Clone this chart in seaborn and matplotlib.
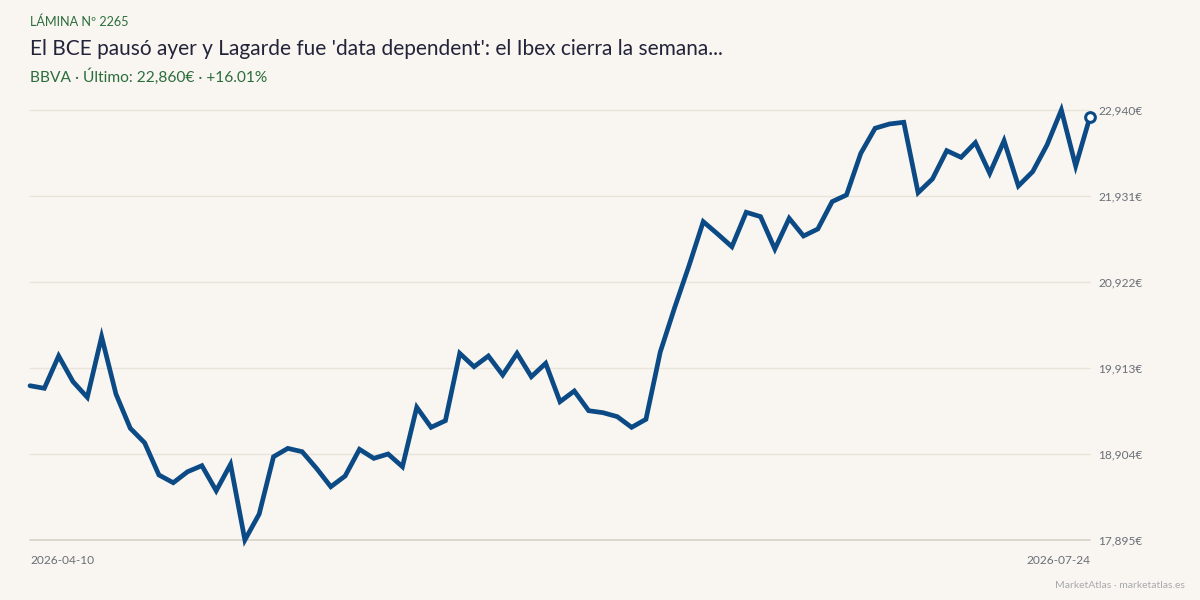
import matplotlib
matplotlib.use("Agg")
import matplotlib.pyplot as plt
import seaborn as sns
import pandas as pd
import numpy as np

# ---- data ----
prices = [19705, 19675, 20054, 19753, 19569, 20280, 19608, 19206, 19036, 18658,
          18567, 18696, 18767, 18473, 18783, 17895, 18200, 18872, 18970, 18931,
          18736, 18520, 18646, 18959, 18853, 18904, 18755, 19452, 19217, 19295,
          20085, 19928, 20054, 19831, 20085, 19811, 19968, 19518, 19643, 19412,
          19389, 19342, 19217, 19311, 20101, 20620, 21110, 21630, 21486, 21336,
          21740, 21689, 21309, 21669, 21462, 21544, 21865, 21943, 22432, 22726,
          22776, 22796, 21970, 22131, 22463, 22385, 22557, 22197, 22580, 22049,
          22217, 22530, 22940, 22283, 22860]
date_labels = ["2026-04-10", "2026-07-24"]
tick_values = [17895, 18904, 19913, 20922, 21931, 22940]
kicker = "LÁMINA Nº 2265"
title = "El BCE pausó ayer y Lagarde fue 'data dependent': el Ibex cierra la semana..."
subtitle = "BBVA · Último: 22,860€ · +16.01%"
footer = "MarketAtlas · marketatlas.es"

BG = "#f9f6f1"
LINE = "#0c4a85"
GREEN = "#2b6e3c"
GRID = "#e8e3db"
AXIS = "#d8d2c8"
TICK = "#6b6e78"

sns.set_theme(style="white")
plt.rcParams['font.family'] = ['Lato', 'DejaVu Sans']

df = pd.DataFrame({"i": np.arange(len(prices)), "price": prices})

fig = plt.figure(figsize=(12, 6), dpi=100, facecolor=BG)
ax = fig.add_axes([30/1200, 60/600, 1060/1200, 430/600])
ax.set_facecolor(BG)

for v in tick_values[1:]:
    ax.axhline(v, color=GRID, lw=1, zorder=0)
ax.axhline(tick_values[0], color=AXIS, lw=1.2, zorder=0)

sns.lineplot(data=df, x="i", y="price", ax=ax, color=LINE, lw=3.4,
             solid_joinstyle='miter', zorder=3)
for l in ax.lines:
    l.set_clip_on(False)
ax.plot([df["i"].iloc[-1]], [prices[-1]], marker='o', ms=7, mfc='white',
        mec=LINE, mew=2.2, clip_on=False, zorder=4)

ax.set_xlim(0, len(prices) - 1)
ax.set_ylim(tick_values[0], tick_values[-1])
for s in ax.spines.values():
    s.set_visible(False)
ax.set_xlabel("")
ax.set_ylabel("")
ax.set_xticks([])
ax.yaxis.tick_right()
ax.set_yticks(tick_values)
ax.set_yticklabels([f"{v:,}€" for v in tick_values])
ax.tick_params(axis='y', length=0, pad=6, labelsize=8.6, labelcolor=TICK)

# date labels
ax.text(0, -0.035, date_labels[0], transform=ax.transAxes, ha='left', va='top',
        fontsize=8.6, color=TICK)
ax.text(1, -0.035, date_labels[1], transform=ax.transAxes, ha='right', va='top',
        fontsize=8.6, color=TICK)

fig.text(30/1200, 1 - 26/600, kicker, ha='left', va='baseline', fontsize=9.1, color=GREEN)
fig.text(30/1200, 1 - 55/600, title, ha='left', va='baseline', fontsize=15, color="#23233a")
fig.text(30/1200, 1 - 81.5/600, subtitle, ha='left', va='baseline', fontsize=11.2, color=GREEN)
fig.text(1185/1200, 1 - 588/600, footer, ha='right', va='baseline', fontsize=7.5, color="#a9a9ad")

fig.savefig("out.png", dpi=100, facecolor=BG)
